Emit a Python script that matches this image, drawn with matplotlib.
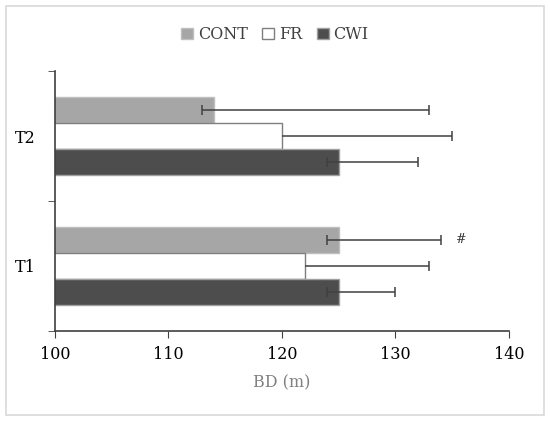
import numpy as np
import matplotlib.pyplot as plt
from matplotlib.patches import Rectangle, Patch

# data
groups = ['T1', 'T2']
series = ['CONT', 'FR', 'CWI']
cont = [125, 114]
cont_lo = [1, 1]
cont_hi = [9, 19]
fr = [122, 120]
fr_lo = [0, 0]
fr_hi = [11, 15]
cwi = [125, 125]
cwi_lo = [1, 1]
cwi_hi = [5, 7]
x_ticks = [100, 110, 120, 130, 140]

plt.rcParams['font.family'] = ['DejaVu Serif']

fig = plt.figure(figsize=(5.5, 4.21), dpi=100)
ax = fig.add_axes([0.1, 0.214, 0.825, 0.617])

# light frame round the whole chart
fig.patches.append(Rectangle((0.011, 0.014), 0.978, 0.972, transform=fig.transFigure,
                             fill=False, edgecolor='#d9d9d9', linewidth=1.2))

centers = np.arange(len(groups)) + 0.5
h = 0.2
err_kw = dict(ecolor='#404040', elinewidth=1.1, capsize=3.5, capthick=1.1)

ax.barh(centers + h, cont, height=h, color='#a6a6a6', edgecolor='#bfbfbf', linewidth=1,
        xerr=[cont_lo, cont_hi], error_kw=err_kw, label='CONT')
fr_bars = ax.barh(centers, fr, height=h, color='white', edgecolor='#7f7f7f', linewidth=1,
                  xerr=[fr_lo, fr_hi], error_kw=err_kw, label='FR')
ax.barh(centers - h, cwi, height=h, color='#4d4d4d', edgecolor='#a0a0a0', linewidth=1,
        xerr=[cwi_lo, cwi_hi], error_kw=err_kw, label='CWI')

# FR has no lower cap in the original
fr_bars.errorbar.lines[1][0].set_visible(False)

ax.text(cont[0] + cont_hi[0] + 1.3, centers[0] + h, '#', fontsize=9, va='center', ha='left',
        color='#303030')

ax.set_xlim(100, 140)
ax.set_ylim(0, 2)
ax.set_xticks(x_ticks)
ax.set_yticks(centers)
ax.set_yticklabels(groups)
ax.set_yticks([0, 1, 2], minor=True)
ax.tick_params(axis='y', which='major', length=0, pad=14, labelsize=11.5)
ax.tick_params(axis='y', which='minor', length=5, direction='out', color='#404040')
ax.tick_params(axis='x', length=5, direction='out', color='#404040', labelsize=11.5, pad=6)

for s in ['top', 'right']:
    ax.spines[s].set_visible(False)
for s in ['left', 'bottom']:
    ax.spines[s].set_color('#404040')
    ax.spines[s].set_linewidth(1.2)

ax.set_xlabel('BD (m)', color='#808080', fontsize=11.5, labelpad=8)

handles = [Patch(facecolor='#a6a6a6', edgecolor='#bfbfbf'),
           Patch(facecolor='white', edgecolor='#7f7f7f'),
           Patch(facecolor='#4d4d4d', edgecolor='#a0a0a0')]
fig.legend(handles, series, loc='center', bbox_to_anchor=(0.5, 0.918), ncol=3, frameon=False,
           fontsize=11.5, handlelength=0.75, handleheight=0.75, handletextpad=0.3,
           columnspacing=0.9, labelcolor='#404040')

fig.savefig('out.png', dpi=100)
